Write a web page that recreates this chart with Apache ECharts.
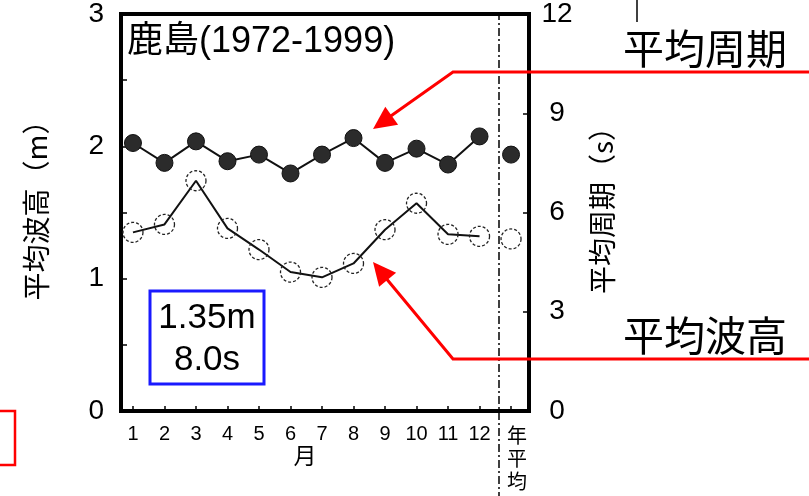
<!DOCTYPE html>
<html>
<head>
<meta charset="utf-8">
<script src="https://cdn.jsdelivr.net/npm/echarts@6/dist/echarts.min.js"></script>
<style>
html,body{margin:0;padding:0;background:#fff;}
#chart{width:809px;height:496px;}
</style>
</head>
<body>
<div id="chart"></div>
<script>
// ---- data ----
const categories = ['1','2','3','4','5','6','7','8','9','10','11','12','年平均'];
const monthPos = [1,2,3,4,5,6,7,8,9,10,11,12];
const annualPos = 13;
const waveHeight = [1.35,1.41,1.74,1.38,1.22,1.05,1.01,1.115,1.37,1.57,1.335,1.32];
const wavePeriod = [8.10,7.50,8.15,7.55,7.75,7.18,7.75,8.25,7.50,7.93,7.45,8.30];
const annualHeight = 1.30;
const annualPeriod = 7.75;
const heightTicks = [0,1,2,3];
const periodTicks = [0,3,6,9,12];
const titleText = '鹿島(1972-1999)';
const boxLines = ['1.35m','8.0s'];
const labelPeriod = '平均周期';
const labelHeight = '平均波高';

const LAT = '"Liberation Sans", Arial, "Noto Sans CJK JP", sans-serif';
const CJK = '"Noto Sans CJK JP", "Liberation Sans", sans-serif';

const chart = echarts.init(document.getElementById('chart'), null, {renderer:'canvas'});

const hPairs = monthPos.map((m,i)=>[m, waveHeight[i]]);
const pPairs = monthPos.map((m,i)=>[m, wavePeriod[i]]);

const openCircle = {color:'rgba(255,255,255,0)', borderColor:'#222', borderWidth:1.3, borderType:[3,2], opacity:1};
const filledCircle = {color:'#2b2b2b', borderColor:'#111', borderWidth:1, opacity:1};

const option = {
  animation:false,
  backgroundColor:'#fff',
  textStyle:{fontFamily:LAT},
  grid:{left:121, top:12, right:280, bottom:85, show:true, borderColor:'#000', borderWidth:4, backgroundColor:'transparent'},
  xAxis:{
    type:'value', min:0.62, max:13.57,
    axisLine:{show:false},
    splitLine:{show:false},
    axisTick:{show:true, inside:true, length:5, lineStyle:{color:'#000', width:1.5}, customValues:categories.map((c,i)=>i+1)},
    axisLabel:{
      show:true, margin:13, fontSize:20, color:'#000', fontFamily:LAT,
      customValues:categories.map((c,i)=>i+1),
      formatter:function(v){
        const idx = Math.round(v)-1;
        if(idx===12){ return categories[12].split('').map(ch=>'{y|'+ch+'}').join('\n'); }
        return categories[idx];
      },
      rich:{y:{fontSize:20, lineHeight:23, fontFamily:CJK, color:'#000', padding:[0,0,0,12]}}
    }
  },
  yAxis:[
    {
      type:'value', min:0, max:3, interval:0.5, position:'left',
      name:'平均波高（m）', nameLocation:'middle', nameRotate:90, nameGap:71,
      nameTextStyle:{fontSize:28, fontFamily:CJK, color:'#000', padding:[0,0,0,18]},
      axisLine:{show:false},
      splitLine:{show:false},
      axisTick:{show:true, inside:true, length:6, lineStyle:{color:'#000', width:1.5}},
      axisLabel:{margin:17, fontSize:28, color:'#000', fontFamily:LAT,
        formatter:function(v){ return heightTicks.indexOf(v)>=0 ? String(v) : ''; }}
    },
    {
      type:'value', min:0, max:12, interval:3, position:'right',
      name:'平均周期（s）', nameLocation:'middle', nameRotate:90, nameGap:59,
      nameTextStyle:{fontSize:28, fontFamily:CJK, color:'#000', padding:[0,0,0,18]},
      axisLine:{show:false},
      splitLine:{show:false},
      axisTick:{show:true, inside:true, length:6, lineStyle:{color:'#000', width:1.5}},
      axisLabel:{margin:28, align:'center', fontSize:28, color:'#000', fontFamily:LAT,
        formatter:function(v){ return periodTicks.indexOf(v)>=0 ? String(v) : ''; }}
    }
  ],
  series:[
    {type:'line', yAxisIndex:1, data:pPairs, symbol:'circle', symbolSize:17,
      lineStyle:{color:'#111', width:2}, itemStyle:filledCircle, z:3},
    {type:'scatter', yAxisIndex:1, data:[[annualPos, annualPeriod]], symbol:'circle', symbolSize:17,
      itemStyle:filledCircle, z:3},
    {type:'line', yAxisIndex:0, data:hPairs, symbol:'circle', symbolSize:20,
      lineStyle:{color:'#111', width:2}, itemStyle:openCircle, z:3},
    {type:'scatter', yAxisIndex:0, data:[[annualPos, annualHeight]], symbol:'circle', symbolSize:20,
      itemStyle:openCircle, z:3}
  ],
  graphic:[
    // separator dash-dot line between months and annual mean
    {type:'line', silent:true, z:5, shape:{x1:499, y1:12, x2:499, y2:496},
      style:{stroke:'#000', lineWidth:1.5, lineDash:[8,3,2,3]}},
    // title inside plot
    {type:'text', z:6, left:127, top:24, style:{text:titleText, fontSize:36, fontFamily:LAT, fill:'#000'}},
    // "月" axis label
    {type:'text', z:6, x:305, y:455, style:{text:'月', fontSize:23, fontFamily:CJK, fill:'#000', align:'center', verticalAlign:'middle'}},
    // blue box
    {type:'rect', z:6, shape:{x:150, y:291, width:114, height:93}, style:{fill:'#fff', stroke:'#1a1aff', lineWidth:3}},
    {type:'text', z:7, x:207, y:318, style:{text:boxLines[0], fontSize:35, fontFamily:LAT, fill:'#000', align:'center', verticalAlign:'middle'}},
    {type:'text', z:7, x:207, y:360, style:{text:boxLines[1], fontSize:35, fontFamily:LAT, fill:'#000', align:'center', verticalAlign:'middle'}},
    // red call-out: 平均周期
    {type:'polyline', z:8, shape:{points:[[809,72],[453,72],[388,118]]}, style:{stroke:'#ff0000', lineWidth:3, fill:null}},
    {type:'polygon', z:8, shape:{points:[[373,129],[398.1,124.7],[385.3,106.7]]}, style:{fill:'#ff0000'}},
    {type:'text', z:8, left:623, top:28, style:{text:labelPeriod, fontSize:41, fontFamily:CJK, fill:'#000'}},
    // red call-out: 平均波高
    {type:'polyline', z:8, shape:{points:[[809,359],[453,359],[385,277]]}, style:{stroke:'#ff0000', lineWidth:3, fill:null}},
    {type:'polygon', z:8, shape:{points:[[373,262],[396.1,272.8],[379.1,286.8]]}, style:{fill:'#ff0000'}},
    {type:'text', z:8, left:623, top:315, style:{text:labelHeight, fontSize:41, fontFamily:CJK, fill:'#000'}},
    // small black tick at top right
    {type:'line', z:8, shape:{x1:637, y1:0, x2:637, y2:22}, style:{stroke:'#000', lineWidth:1.5}},
    // partial red box at left
    {type:'polyline', z:8, shape:{points:[[-2,411],[15,411],[15,465],[-2,465]]}, style:{stroke:'#ff0000', lineWidth:2.5, fill:null}}
  ]
};
chart.setOption(option);
</script>
</body>
</html>
